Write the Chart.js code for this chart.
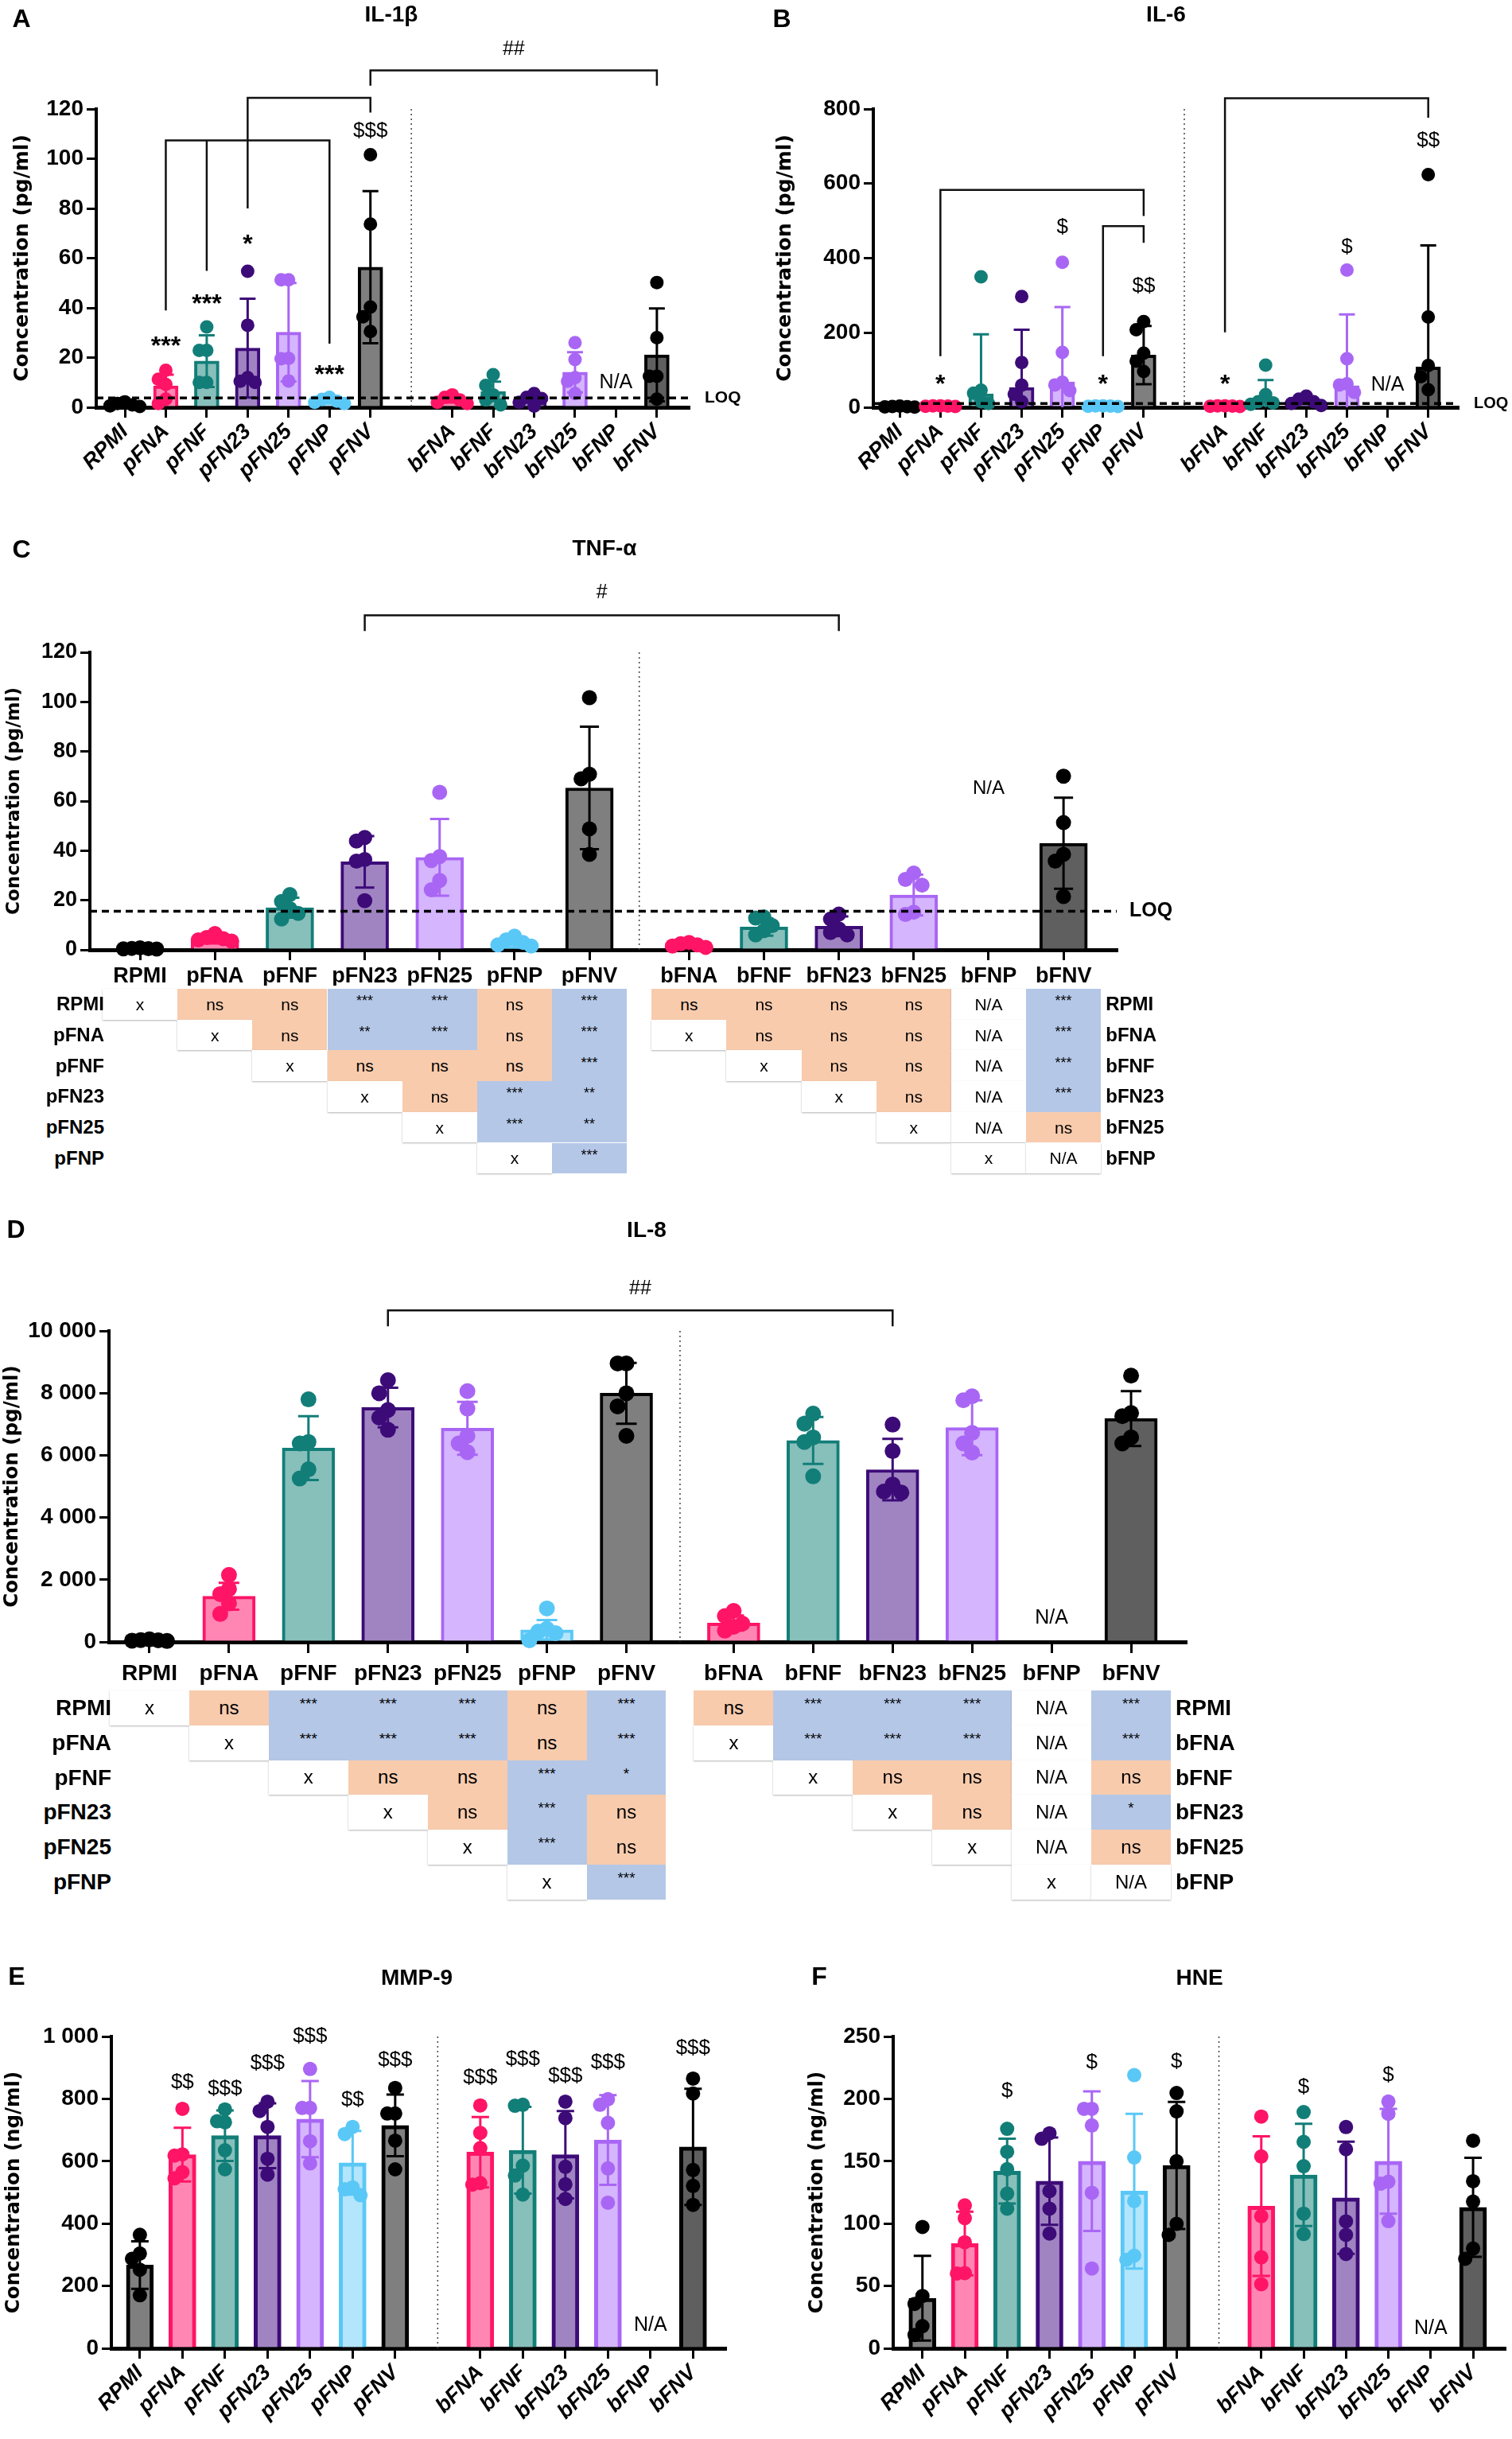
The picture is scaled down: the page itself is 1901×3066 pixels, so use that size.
<!DOCTYPE html>
<html>
<head>
<meta charset="utf-8">
<title>Cytokine release</title>
<script src="https://cdn.jsdelivr.net/npm/chart.js@4.4.1/dist/chart.umd.min.js"></script>
<style>
  html, body { margin: 0; padding: 0; background: #fff; }
  body { position: relative; width: 1901px; height: 3066px; overflow: hidden;
         font-family: 'Liberation Sans', Arial, sans-serif; color: #000; }
  canvas { position: absolute; }
  .txt { position: absolute; white-space: nowrap; transform: translate(-50%, -50%); font-weight: bold; line-height: 1; }
  .letter { font-size: 32px; }
  .title { font-size: 28px; }
  .cell { position: absolute; display: flex; align-items: center; justify-content: center; box-sizing: border-box; line-height: 1; }
  .cell.plain { background: #fff; box-shadow: 0 1px 2px rgba(0,0,0,0.3); }
  .rowlab { position: absolute; font-weight: bold; white-space: nowrap; line-height: 1; }
</style>
</head>
<body>
<script>
// x axis groups (RPMI only on the left half)
const groups = ['RPMI', 'pFNA', 'pFNF', 'pFN23', 'pFN25', 'pFNP', 'pFNV',
                'bFNA', 'bFNF', 'bFN23', 'bFN25', 'bFNP', 'bFNV'];
const fillColors = ['#7f7f7f', '#ff86b3', '#87bfbb', '#a084c2', '#d5b5fd', '#b3e5fc', '#7f7f7f',
                    '#ff86b3', '#87bfbb', '#a084c2', '#d5b5fd', '#b3e5fc', '#5f5f5f'];
const edgeColors = ['#000000', '#ff1466', '#127e78', '#3d0b78', '#a966f4', '#5ac8f7', '#000000',
                    '#ff1466', '#127e78', '#3d0b78', '#a966f4', '#5ac8f7', '#000000'];

// A - IL-1b (pg/ml)
const il1bMean = [1, 8.6, 18.6, 23.8, 30.2, 2.5, 56.4, 2.9, 6.4, 3.6, 14.1, null, 21.1];
const il1bSd = [1, 4.5, 10.4, 19.9, 19.8, 1, 30.6, 1, 3.9, 1.2, 8.1, null, 18.7];
const il1bPts = [
  [2.2, 1.5, 1, 0.6, 0.3], [14.9, 11.3, 9.2, 3.3, 1.5], [32.3, 22.9, 22.9, 10, 10],
  [54.7, 33, 11.9, 10.5, 10], [51.3, 51.3, 19.7, 19.5, 10.6], [4, 3.2, 2.5, 2, 1.5],
  [101.6, 73.7, 40.3, 36.4, 30.5], [5, 4, 3, 2, 1.5], [13.1, 8.8, 5, 3, 1],
  [5.5, 4, 3.5, 2, 0.5], [26, 19.2, 11.9, 10.5, 5.5], [], [50.2, 28, 12.5, 12.5, 3.3]
];
const il1bLoq = 3.8;
const il1bNotes = [
  { g: 'pFNA', y: 26.5, t: '***' }, { g: 'pFNF', y: 43.7, t: '***' }, { g: 'pFN23', y: 67.6, t: '*' },
  { g: 'pFNP', y: 15, t: '***' }, { g: 'pFNV', y: 111, t: '$$$' }, { g: 'bFNP', y: 10, t: 'N/A' }
];
const il1bBrackets = [
  { top: 107.4, legs: [['pFNA', 39.4], ['pFNF', 55.3], ['pFNP', 26]] },
  { top: 124.5, legs: [['pFN23', 80.4], ['pFNV', 119]] },
  { top: 135.5, legs: [['pFNV', 129.8], ['bFNV', 129.8]], label: '##', labelY: 144 }
];

// B - IL-6 (pg/ml)
const il6Mean = [2, 3, 36, 53, 68, 3, 140, 3, 15, 17, 58, null, 108];
const il6Sd = [1, 1, 160, 155, 201, 1, 78, 1, 58, 8, 191, null, 326];
const il6Pts = [
  [3, 2, 1.5, 1, 0.5], [4, 3.5, 3, 2.5, 2], [350, 46, 38, 15, 10], [297, 120, 59, 35, 15],
  [389, 147, 67, 60, 45], [4, 3.5, 3, 2.5, 2], [230, 208, 145, 124, 96], [4, 3.5, 3, 2.5, 2],
  [113, 34, 15, 12, 8], [30, 22, 15, 10, 5], [368, 130, 63, 60, 40], [], [624, 242, 112, 82, 47]
];
const il6Loq = 10;
const il6Notes = [
  { g: 'pFNA', y: 75, t: '*' }, { g: 'pFNP', y: 75, t: '*' }, { g: 'bFNA', y: 75, t: '*' },
  { g: 'pFN25', y: 483, t: '$' }, { g: 'pFNV', y: 324, t: '$$' }, { g: 'bFN25', y: 430, t: '$' },
  { g: 'bFNV', y: 716, t: '$$' }, { g: 'bFNP', y: 59, t: 'N/A' }
];
const il6Brackets = [
  { top: 583, legs: [['pFNA', 140], ['pFNV', 516]] },
  { top: 486, legs: [['pFNP', 140], ['pFNV', 444]] },
  { top: 829, legs: [['bFNA', 204], ['bFNV', 779]] }
];

// C - TNF-a (pg/ml)
const tnfMean = [0.5, 3.8, 17, 35.5, 37.3, 2.5, 65.3, 1.8, 9.2, 9.5, 22.1, null, 43];
const tnfSd = [0.3, 1.2, 4, 10.4, 15.5, 1.5, 24.7, 0.8, 3.5, 4, 8.2, null, 18.4];
const tnfPts = [
  [0.8, 0.6, 0.5, 0.4, 0.3], [6.6, 5, 4.5, 4, 3.5], [22.3, 19.5, 16.6, 14.7, 12.4],
  [45.3, 43.9, 36.4, 35.8, 19.8], [63.5, 37.6, 36, 28, 24.2], [5.5, 4, 3, 2, 1.5],
  [101.7, 70.8, 69, 48.8, 38.5], [3, 2.5, 2, 1.5, 1], [13.2, 12.8, 9.8, 7.8, 6],
  [14.4, 12.4, 8.4, 7, 6], [31, 28.4, 26.1, 15.2, 14.3], [], [70, 51.3, 38.5, 35.8, 21.5]
];
const tnfLoq = 15.6;
const tnfNotes = [{ g: 'bFNP', y: 65, t: 'N/A' }];
const tnfBrackets = [{ top: 134.9, legs: [['pFN23', 129], ['bFN23', 129]], label: '#', labelY: 144 }];
const tnfTableP = ['x ns ns *** *** ns ***', '. x ns ** *** ns ***', '. . x ns ns ns ***',
                   '. . . x ns *** **', '. . . . x *** **', '. . . . . x ***'];
const tnfTableB = ['ns ns ns ns N/A ***', 'x ns ns ns N/A ***', '. x ns ns N/A ***',
                   '. . x ns N/A ***', '. . . x N/A ns', '. . . . x N/A'];

// D - IL-8 (pg/ml)
const il8Mean = [50, 1468, 6233, 7534, 6869, 391, 7994, 607, 6477, 5538, 6888, null, 7182];
const il8Sd = [20, 430, 1027, 636, 851, 314, 979, 244, 754, 988, 881, null, 881];
const il8Pts = [
  [80, 60, 50, 40, 30], [2153, 1703, 1536, 1243, 900], [7798, 6429, 6380, 5548, 5254],
  [8415, 7994, 7456, 7211, 6820], [8063, 7505, 6624, 6380, 6100], [1076, 420, 330, 280, 50],
  [8953, 8953, 7994, 7573, 6624], [998, 832, 587, 489, 362], [7338, 7016, 6575, 6429, 5323],
  [6986, 6135, 5059, 4834, 4800], [7896, 7769, 6722, 6380, 6086], [], [8562, 7358, 7260, 6575, 6380]
];
const il8Notes = [{ g: 'bFNP', y: 753, t: 'N/A' }];
const il8Brackets = [{ top: 10656, legs: [['pFN23', 10176], ['bFN23', 10176]], label: '##', labelY: 11350 }];
const il8TableP = ['x ns *** *** *** ns ***', '. x *** *** *** ns ***', '. . x ns ns *** *',
                   '. . . x ns *** ns', '. . . . x *** ns', '. . . . . x ***'];
const il8TableB = ['ns *** *** *** N/A ***', 'x *** *** *** N/A ***', '. x ns ns N/A ns',
                   '. . x ns N/A *', '. . . x N/A ns', '. . . . x N/A'];
const tableRowsP = ['RPMI', 'pFNA', 'pFNF', 'pFN23', 'pFN25', 'pFNP'];
const tableRowsB = ['RPMI', 'bFNA', 'bFNF', 'bFN23', 'bFN25', 'bFNP'];

// E - MMP-9 (ng/ml)
const mmpMean = [267, 621, 682, 682, 735, 595, 715, 629, 635, 621, 668, null, 646];
const mmpSd = [76, 86, 81, 104, 122, 102, 99, 113, 139, 140, 144, null, 186];
const mmpPts = [
  [364, 304, 287, 252, 170], [768, 622, 618, 565, 545], [766, 728, 725, 635, 574],
  [791, 761, 710, 608, 557], [896, 771, 771, 664, 593], [710, 687, 516, 510, 491],
  [835, 753, 753, 666, 574], [779, 691, 642, 530, 525], [781, 778, 586, 554, 493],
  [791, 738, 582, 526, 479], [799, 781, 723, 577, 467], [], [865, 817, 572, 521, 460]
];
const mmpNotes = [
  { g: 'pFNA', y: 852, t: '$$' }, { g: 'pFNF', y: 832, t: '$$$' }, { g: 'pFN23', y: 913, t: '$$$' },
  { g: 'pFN25', y: 1000, t: '$$$' }, { g: 'pFNP', y: 796, t: '$$' }, { g: 'pFNV', y: 924, t: '$$$' },
  { g: 'bFNA', y: 868, t: '$$$' }, { g: 'bFNF', y: 927, t: '$$$' }, { g: 'bFN23', y: 873, t: '$$$' },
  { g: 'bFN25', y: 917, t: '$$$' }, { g: 'bFNV', y: 962, t: '$$$' }, { g: 'bFNP', y: 73, t: 'N/A' }
];

// F - HNE (ng/ml)
const hneMean = [40.2, 84, 142, 134, 150, 126, 146.6, 114, 139, 120.7, 150, null, 113];
const hneSd = [34, 25.5, 26, 35, 56, 62, 51, 56, 41, 45, 42, null, 39.7];
const hnePts = [
  [97.3, 42, 35.6, 17.8, 10.7], [114.6, 104.4, 85, 60.3, 60], [176, 157.6, 143.6, 124, 112],
  [172.4, 168, 126, 112, 92], [192, 192, 178.7, 124.7, 64], [219, 153, 118, 74.3, 71],
  [204.7, 190, 150, 99.8, 90.9], [185.8, 153.8, 106, 73, 51.4], [189.4, 165.5, 146, 108, 91.6],
  [177.4, 159.6, 101.8, 90.9, 75.6], [197.8, 188, 133.6, 132, 102], [], [166.5, 134, 117.6, 80, 71.8]
];
const hneNotes = [
  { g: 'pFNF', y: 206, t: '$' }, { g: 'pFN25', y: 229, t: '$' }, { g: 'pFNV', y: 230, t: '$' },
  { g: 'bFNF', y: 209, t: '$' }, { g: 'bFN25', y: 219, t: '$' }, { g: 'bFNP', y: 16, t: 'N/A' }
];

const FONT = "'Liberation Sans', Arial, sans-serif";
Chart.defaults.font.family = FONT;
Chart.defaults.color = '#000';

const fmt = v => String(v).replace(/\B(?=(\d{3})+(?!\d))/g, ' ');

// spread overlapping dots sideways, GraphPad style
function swarm(vals, pxPerUnit, r, step) {
  const out = new Array(vals.length).fill(0);
  const placed = [];
  const order = vals.map((v, i) => i).sort((a, b) => vals[b] - vals[a]);
  const cands = [0, -step, step, -2 * step, 2 * step, -3 * step, 3 * step];
  order.forEach(i => {
    for (const c of cands) {
      const free = placed.every(p => Math.abs(p.v - vals[i]) * pxPerUnit >= 1.7 * r || Math.abs(p.dx - c) > step * 0.99);
      if (free) { out[i] = c; placed.push({ v: vals[i], dx: c }); break; }
    }
  });
  return out;
}

const overlay = {
  id: 'overlay',
  beforeDatasetsDraw(chart, args, o) {
    const { ctx, chartArea: ca, scales: { x } } = chart;
    const sx = x.getPixelForValue(o.sep);
    ctx.save();
    ctx.strokeStyle = '#444';
    ctx.lineWidth = 1.5;
    ctx.setLineDash([2, 4]);
    ctx.beginPath(); ctx.moveTo(sx, ca.top); ctx.lineTo(sx, ca.bottom); ctx.stroke();
    ctx.restore();
  },
  afterDatasetDraw(chart, args, o) {
    if (args.meta.type !== 'bar') return;
    const { ctx, scales: { x, y } } = chart;
    ctx.save();
    ctx.lineWidth = o.errWidth;
    o.mean.forEach((m, i) => {
      if (m == null) return;
      const px = x.getPixelForValue(o.pos[i]);
      const hi = y.getPixelForValue(m + o.sd[i]);
      const lowVal = m - o.sd[i];
      const lo = y.getPixelForValue(Math.max(lowVal, 0));
      ctx.strokeStyle = edgeColors[i];
      ctx.beginPath();
      ctx.moveTo(px, lo); ctx.lineTo(px, hi);
      ctx.moveTo(px - o.cap, hi); ctx.lineTo(px + o.cap, hi);
      if (lowVal > 0) { ctx.moveTo(px - o.cap, lo); ctx.lineTo(px + o.cap, lo); }
      ctx.stroke();
    });
    ctx.restore();
  },
  afterDatasetsDraw(chart, args, o) {
    const { ctx, chartArea: ca, scales: { x, y } } = chart;
    const gx = g => x.getPixelForValue(o.pos[groups.indexOf(g)]);
    ctx.save();
    ctx.fillStyle = '#000';
    ctx.textAlign = 'center';
    ctx.textBaseline = 'middle';
    if (o.loq != null) {
      const ly = y.getPixelForValue(o.loq);
      ctx.strokeStyle = '#000';
      ctx.lineWidth = 3.5;
      ctx.setLineDash([9, 6]);
      ctx.beginPath(); ctx.moveTo(ca.left, ly); ctx.lineTo(ca.right, ly); ctx.stroke();
      ctx.setLineDash([]);
      ctx.font = `bold ${o.loqSize}px ${FONT}`;
      ctx.textAlign = 'left';
      ctx.fillText('LOQ', ca.right + o.loqGap, ly);
      ctx.textAlign = 'center';
    }
    ctx.strokeStyle = '#111';
    ctx.lineWidth = 2.5;
    ctx.lineCap = 'square';
    o.brackets.forEach(b => {
      const xs = b.legs.map(l => gx(l[0]));
      const top = y.getPixelForValue(b.top);
      ctx.beginPath();
      ctx.moveTo(Math.min(...xs), top); ctx.lineTo(Math.max(...xs), top);
      b.legs.forEach((l, k) => { ctx.moveTo(xs[k], top); ctx.lineTo(xs[k], y.getPixelForValue(l[1])); });
      ctx.stroke();
      if (b.label) {
        ctx.font = `${o.hashSize}px ${FONT}`;
        ctx.fillText(b.label, (Math.min(...xs) + Math.max(...xs)) / 2, y.getPixelForValue(b.labelY));
      }
    });
    o.notes.forEach(n => {
      let yy = y.getPixelForValue(n.y);
      if (n.t[0] === '*') {
        ctx.font = `bold ${o.starSize}px ${FONT}`;
        yy += o.starSize * 0.23;
      } else if (n.t[0] === '$') {
        ctx.font = `${o.dollarSize}px ${FONT}`;
      } else {
        ctx.font = `${o.naSize}px ${FONT}`;
      }
      ctx.fillText(n.t, gx(n.g), yy);
    });
    ctx.restore();
  }
};

function buildChart(p) {
  const canvas = document.createElement('canvas');
  canvas.width = p.w;
  canvas.height = p.h;
  canvas.style.left = p.left + 'px';
  canvas.style.top = p.top + 'px';
  document.body.appendChild(canvas);

  const pos = groups.map((g, i) => (i < 7 ? i : i - 1 + p.gap));
  const lh = p.yTitleSize * 1.2;
  const padL = p.yTitleX - p.left - lh / 2;
  const yw = p.ax.l - p.left - padL;
  const padding = {
    left: padL, top: p.ax.t - p.top,
    right: p.left + p.w - p.ax.r, bottom: p.top + p.h - p.ax.b - p.xh
  };
  const pxPerUnit = (p.ax.b - p.ax.t) / p.ymax;
  const slotPx = (p.ax.r - p.ax.l) / (p.xmax - p.xmin);
  const step = (p.r * 1.1) / slotPx;

  const dots = [], dotColors = [];
  p.points.forEach((vals, i) => {
    const dx = swarm(vals, pxPerUnit, p.r, step);
    vals.forEach((v, k) => { dots.push({ x: pos[i] + dx[k], y: v }); dotColors.push(edgeColors[i]); });
  });
  const bars = p.mean.map((m, i) => ({ x: pos[i], y: m }));

  const chart = new Chart(canvas, {
    type: 'bar',
    data: {
      datasets: [
        { type: 'scatter', data: dots, pointRadius: p.r, pointHoverRadius: p.r,
          pointBackgroundColor: dotColors, pointBorderWidth: 0, clip: false, order: 1 },
        { type: 'bar', data: bars, backgroundColor: fillColors, borderColor: edgeColors,
          borderWidth: p.bw, barThickness: p.barPx, order: 2 }
      ]
    },
    options: {
      responsive: false,
      animation: false,
      devicePixelRatio: 1,
      layout: { padding },
      plugins: {
        legend: { display: false },
        tooltip: { enabled: false },
        overlay: {
          pos, sep: 6 + p.gap / 2, mean: p.mean, sd: p.sd, loq: p.loq, notes: p.notes,
          brackets: p.brackets, errWidth: p.errWidth, cap: p.cap, loqSize: p.loqSize, loqGap: p.loqGap,
          starSize: p.starSize, dollarSize: p.dollarSize, naSize: p.naSize, hashSize: p.hashSize
        }
      },
      scales: {
        x: {
          type: 'linear', min: p.xmin, max: p.xmax, offset: false, bounds: 'data',
          afterBuildTicks: s => { s.ticks = pos.map(v => ({ value: v })); },
          ticks: {
            autoSkip: false, maxRotation: p.rot, minRotation: p.rot, padding: p.xPad, color: '#000',
            font: { size: p.xTickSize, weight: 'bold', style: p.rot ? 'italic' : 'normal' },
            callback: v => groups[pos.indexOf(v)] || ''
          },
          grid: { offset: false, drawOnChartArea: false, drawTicks: true, tickLength: p.tickLen, color: '#000', lineWidth: 3 },
          border: { display: true, color: '#000', width: 5 },
          afterFit: s => { s.height = p.xh; }
        },
        y: {
          type: 'linear', min: 0, max: p.ymax,
          ticks: { stepSize: p.ystep, padding: 4, color: '#000', font: { size: p.tickSize, weight: 'bold' }, callback: v => fmt(v) },
          grid: { drawOnChartArea: false, drawTicks: true, tickLength: 12, color: '#000', lineWidth: 3 },
          border: { display: true, color: '#000', width: 4 },
          title: {
            display: true, text: p.yTitle, color: '#000', padding: 0,
            font: { family: "'DejaVu Sans', Verdana, sans-serif", weight: 'bold', size: p.yTitleSize }
          },
          afterFit: s => { s.width = yw; }
        }
      }
    },
    plugins: [overlay]
  });
  chart.$pos = pos;
  chart.$slot = slotPx;
  return chart;
}

function addText(cls, text, x, y, extra) {
  const d = document.createElement('div');
  d.className = cls;
  d.textContent = text;
  d.style.left = x + 'px';
  d.style.top = y + 'px';
  if (extra) Object.assign(d.style, extra);
  document.body.appendChild(d);
  return d;
}

function buildTable(chart, p, rowsP, rowsB, t) {
  const x = chart.scales.x, pos = chart.$pos, w = chart.$slot;
  const cx = i => p.left + x.getPixelForValue(pos[i]);
  const cell = (i, r, txt) => {
    const d = document.createElement('div');
    const star = txt[0] === '*';
    d.className = 'cell' + (txt === 'ns' || star ? '' : ' plain');
    d.style.background = txt === 'ns' ? '#f8cbad' : (star ? '#b4c7e7' : '#fff');
    d.style.left = (cx(i) - w / 2) + 'px';
    d.style.top = (t.top + r * t.rowH) + 'px';
    d.style.width = w + 'px';
    d.style.height = t.rowH + 'px';
    d.style.fontSize = (star ? t.starSize : t.cellSize) + 'px';
    if (star) d.style.alignItems = 'flex-start';
    if (star) d.style.paddingTop = (t.rowH * 0.16) + 'px';
    d.textContent = txt;
    document.body.appendChild(d);
  };
  rowsP.forEach((line, r) => line.split(' ').forEach((txt, c) => { if (txt !== '.') cell(c, r, txt); }));
  rowsB.forEach((line, r) => line.split(' ').forEach((txt, c) => { if (txt !== '.') cell(7 + c, r, txt); }));
  tableRowsP.forEach((name, r) => {
    addText('rowlab', name, cx(0) - w / 2 + 2, t.top + (r + 0.5) * t.rowH,
      { fontSize: t.labSize + 'px', transform: 'translate(-100%, -50%)' });
  });
  tableRowsB.forEach((name, r) => {
    addText('rowlab', name, cx(12) + w / 2 + 6, t.top + (r + 0.5) * t.rowH,
      { fontSize: t.labSize + 'px', transform: 'translate(0, -50%)' });
  });
}

const common = { errWidth: 3, hashSize: 25, starSize: 32, dollarSize: 26, naSize: 25, loqSize: 21, loqGap: 20 };

const chartA = buildChart(Object.assign({}, common, {
  left: 0, top: 0, w: 950, h: 640, ax: { l: 121, t: 137, b: 512, r: 866 }, xmin: -0.7, xmax: 13.78, gap: 2,
  ymax: 120, ystep: 20, yTitle: 'Concentration (pg/ml)', yTitleX: 28, yTitleSize: 25,
  tickSize: 28, xTickSize: 27, rot: 45, xPad: 2, tickLen: 13, xh: 100, r: 8.5, bw: 4, barPx: 31, cap: 10,
  mean: il1bMean, sd: il1bSd, points: il1bPts, loq: il1bLoq, notes: il1bNotes, brackets: il1bBrackets
}));
const chartB = buildChart(Object.assign({}, common, {
  left: 960, top: 0, w: 941, h: 640, ax: { l: 1098, t: 137, b: 512, r: 1833 }, xmin: -0.65, xmax: 13.73, gap: 2,
  ymax: 800, ystep: 200, yTitle: 'Concentration (pg/ml)', yTitleX: 987, yTitleSize: 25,
  tickSize: 28, xTickSize: 27, rot: 45, xPad: 2, tickLen: 13, xh: 100, r: 8.5, bw: 4, barPx: 31, cap: 10,
  loqSize: 20, loqGap: 20,
  mean: il6Mean, sd: il6Sd, points: il6Pts, loq: il6Loq, notes: il6Notes, brackets: il6Brackets
}));
const pC = Object.assign({}, common, {
  left: 0, top: 660, w: 1500, h: 600, ax: { l: 113, t: 820, b: 1194, r: 1404 }, xmin: -0.67, xmax: 13.04, gap: 1.33,
  ymax: 120, ystep: 20, yTitle: 'Concentration (pg/ml)', yTitleX: 18, yTitleSize: 23,
  tickSize: 27, xTickSize: 27, rot: 0, xPad: 4, tickLen: 13, xh: 45, r: 9.5, bw: 4, barPx: 60, cap: 12,
  loqSize: 25, loqGap: 16, naSize: 24,
  mean: tnfMean, sd: tnfSd, points: tnfPts, loq: tnfLoq, notes: tnfNotes, brackets: tnfBrackets
});
const chartC = buildChart(pC);
const pD = Object.assign({}, common, {
  left: 0, top: 1530, w: 1560, h: 610, ax: { l: 137, t: 1673, b: 2064, r: 1491 }, xmin: -0.51, xmax: 13.04, gap: 1.35,
  ymax: 10000, ystep: 2000, yTitle: 'Concentration (pg/ml)', yTitleX: 16, yTitleSize: 24.5,
  tickSize: 28, xTickSize: 28, rot: 0, xPad: 9, tickLen: 14, xh: 60, r: 10, bw: 4, barPx: 66, cap: 13,
  naSize: 25,
  mean: il8Mean, sd: il8Sd, points: il8Pts, loq: null, notes: il8Notes, brackets: il8Brackets
});
const chartD = buildChart(pD);
const chartE = buildChart(Object.assign({}, common, {
  left: 0, top: 2450, w: 950, h: 616, ax: { l: 140, t: 2560, b: 2952, r: 912 }, xmin: -0.67, xmax: 13.76, gap: 2,
  ymax: 1000, ystep: 200, yTitle: 'Concentration (ng/ml)', yTitleX: 18, yTitleSize: 24.5,
  tickSize: 28, xTickSize: 27, rot: 45, xPad: 2, tickLen: 13, xh: 100, r: 9, bw: 5, barPx: 34, cap: 11,
  mean: mmpMean, sd: mmpSd, points: mmpPts, loq: null, notes: mmpNotes, brackets: []
}));
const chartF = buildChart(Object.assign({}, common, {
  left: 960, top: 2450, w: 941, h: 616, ax: { l: 1123, t: 2560, b: 2952, r: 1896 }, xmin: -0.69, xmax: 13.75, gap: 2,
  ymax: 250, ystep: 50, yTitle: 'Concentration (ng/ml)', yTitleX: 1028, yTitleSize: 24.5,
  tickSize: 28, xTickSize: 27, rot: 45, xPad: 2, tickLen: 13, xh: 100, r: 9, bw: 5, barPx: 34, cap: 11,
  mean: hneMean, sd: hneSd, points: hnePts, loq: null, notes: hneNotes, brackets: []
}));

buildTable(chartC, pC, tnfTableP, tnfTableB, { top: 1243, rowH: 38.7, cellSize: 21, starSize: 18, labSize: 24 });
buildTable(chartD, pD, il8TableP, il8TableB, { top: 2125, rowH: 43.8, cellSize: 24, starSize: 19, labSize: 28 });

// panel letters and titles
[['A', 27, 23], ['B', 983, 23], ['C', 27, 690], ['D', 20, 1545], ['E', 21, 2484], ['F', 1030, 2484]]
  .forEach(([t, x, y]) => addText('txt letter', t, x, y));
[['IL-1β', 492, 18], ['IL-6', 1466, 18], ['TNF-α', 760, 689], ['IL-8', 813, 1546], ['MMP-9', 524, 2486], ['HNE', 1508, 2486]]
  .forEach(([t, x, y]) => addText('txt title', t, x, y));
</script>
</body>
</html>
